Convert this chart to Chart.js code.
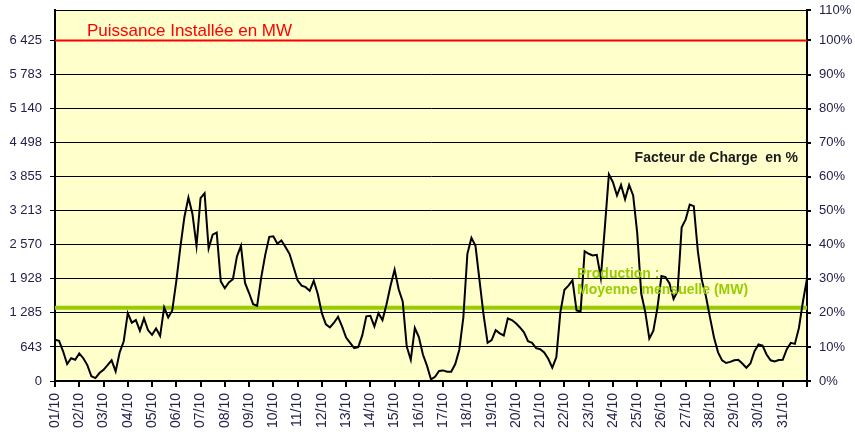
<!DOCTYPE html>
<html>
<head>
<meta charset="utf-8">
<script src="https://cdn.jsdelivr.net/npm/chart.js@4/dist/chart.umd.min.js"></script>
<style>
  html, body { margin: 0; padding: 0; background: #fff; }
  canvas { display: block; }
</style>
</head>
<body>
<canvas id="chart" width="855" height="436"></canvas>
<script>
// jours du mois (axe x)
const dayLabels = ['01/10', '02/10', '03/10', '04/10', '05/10', '06/10', '07/10', '08/10', '09/10', '10/10',
    '11/10', '12/10', '13/10', '14/10', '15/10', '16/10', '17/10', '18/10', '19/10', '20/10',
    '21/10', '22/10', '23/10', '24/10', '25/10', '26/10', '27/10', '28/10', '29/10', '30/10', '31/10'];

// graduations de gauche (MW) et de droite (%)
const leftTickValues = [0, 642.5, 1285, 1927.5, 2570, 3212.5, 3855, 4497.5, 5140, 5782.5, 6425];
const leftTickLabels = ['0', '643', '1 285', '1 928', '2 570', '3 213', '3 855', '4 498', '5 140', '5 783', '6 425'];
const rightTickValues = [0, 642.5, 1285, 1927.5, 2570, 3212.5, 3855, 4497.5, 5140, 5782.5, 6425, 7000];
const rightTickLabels = ['0%', '10%', '20%', '30%', '40%', '50%', '60%', '70%', '80%', '90%', '100%', '110%'];

const installedCapacity = 6425;   // Puissance installée (MW)
const monthlyMean = 1380;         // Production moyenne mensuelle (MW)
const stepsPerDay = 6;            // un point toutes les 4 heures

// production éolienne (MW), 6 valeurs par jour + le dernier point
const production = [
    780, 760, 560, 320, 430, 400,        // 01/10
    520, 430, 300, 90, 55, 150,          // 02/10
    210, 300, 390, 180, 540, 750,        // 03/10
    1280, 1100, 1150, 950, 1180, 960,    // 04/10
    870, 990, 850, 1390, 1200, 1330,     // 05/10
    1880, 2520, 3090, 3460, 3150, 2550,  // 06/10
    3450, 3540, 2500, 2760, 2800, 1880,  // 07/10
    1750, 1860, 1920, 2350, 2550, 1850,  // 08/10
    1660, 1450, 1420, 1950, 2380, 2720,  // 09/10
    2730, 2590, 2650, 2530, 2400, 2150,  // 10/10
    1900, 1800, 1770, 1700, 1890, 1640,  // 11/10
    1280, 1070, 1010, 1100, 1210, 1030,  // 12/10
    820, 720, 620, 640, 860, 1220,       // 13/10
    1230, 1030, 1280, 1150, 1450, 1800,  // 14/10
    2100, 1730, 1500, 650, 400, 1000,    // 15/10
    830, 500, 290, 30, 80, 190,          // 16/10
    200, 175, 175, 320, 590, 1200,       // 17/10
    2400, 2700, 2550, 1900, 1250, 720,   // 18/10
    770, 960, 900, 860, 1180, 1150,      // 19/10
    1090, 1010, 920, 750, 720, 620,      // 20/10
    600, 540, 420, 250, 450, 1300,       // 21/10
    1720, 1800, 1900, 1330, 1310, 2450,  // 22/10
    2400, 2370, 2380, 1950, 2900, 3900,  // 23/10
    3750, 3500, 3700, 3430, 3700, 3500,  // 24/10
    2800, 1650, 1300, 800, 950, 1380,    // 25/10
    1980, 1960, 1840, 1550, 1700, 2900,  // 26/10
    3050, 3330, 3300, 2450, 1900, 1600,  // 27/10
    1200, 820, 540, 390, 340, 360,       // 28/10
    390, 400, 330, 250, 330, 560,        // 29/10
    690, 670, 500, 390, 370, 395,        // 30/10
    400, 600, 720, 700, 1000, 1500,      // 31/10
    1930
];

const FONT = "'Liberation Sans', Arial, sans-serif";
const TICK_COLOR = '#23234a';

// fond jaune + cadre + textes
const decorPlugin = {
    id: 'decor',
    beforeDraw(chart) {
        const { ctx, chartArea: a } = chart;
        ctx.save();
        ctx.fillStyle = '#ffffcc';
        ctx.fillRect(a.left, a.top, a.right - a.left, a.bottom - a.top);
        ctx.restore();
    },
    afterDatasetsDraw(chart) {
        const { ctx, chartArea: a } = chart;
        ctx.save();
        ctx.strokeStyle = '#000';
        ctx.lineWidth = 1;
        ctx.beginPath();
        ctx.moveTo(a.left, a.top + 0.5);
        ctx.lineTo(a.right, a.top + 0.5);
        ctx.stroke();

        ctx.textBaseline = 'alphabetic';
        ctx.fillStyle = '#ff0000';
        ctx.font = '17px ' + FONT;
        ctx.textAlign = 'left';
        ctx.fillText('Puissance Installée en MW', 87, 36);

        ctx.fillStyle = '#1a1a1a';
        ctx.font = 'bold 14px ' + FONT;
        ctx.textAlign = 'right';
        ctx.fillText('Facteur de Charge  en %', 798, 162);

        ctx.fillStyle = '#99cc00';
        ctx.textAlign = 'left';
        ctx.fillText('Production :', 577, 278);
        ctx.fillText('Moyenne mensuelle (MW)', 577, 294);
        ctx.restore();
    }
};

// largeur fixe des axes verticaux, sans marge haute/basse
function fixVertical(width) {
    return scale => {
        scale.width = width;
        scale.paddingTop = 0;
        scale.paddingBottom = 0;
    };
}

const ctx = document.getElementById('chart').getContext('2d');
new Chart(ctx, {
    type: 'line',
    data: {
        datasets: [
            {
                label: 'Production',
                data: production.map((v, i) => ({ x: i / stepsPerDay, y: v })),
                borderColor: '#000',
                borderWidth: 2,
                pointRadius: 0,
                tension: 0,
                yAxisID: 'y'
            },
            {
                label: 'Moyenne mensuelle',
                data: [{ x: 0, y: monthlyMean }, { x: dayLabels.length, y: monthlyMean }],
                borderColor: '#99cc00',
                borderWidth: 4,
                pointRadius: 0,
                yAxisID: 'y'
            },
            {
                label: 'Puissance installée',
                data: [{ x: 0, y: installedCapacity }, { x: dayLabels.length, y: installedCapacity }],
                borderColor: '#ff0000',
                borderWidth: 2,
                pointRadius: 0,
                yAxisID: 'y'
            }
        ]
    },
    options: {
        responsive: false,
        animation: false,
        layout: { padding: { top: 10, left: 0, right: 0, bottom: 0 } },
        plugins: {
            legend: { display: false },
            tooltip: { enabled: false }
        },
        scales: {
            x: {
                type: 'linear',
                min: 0,
                max: dayLabels.length,
                afterBuildTicks: scale => {
                    scale.ticks = dayLabels.map((d, i) => ({ value: i })).concat([{ value: dayLabels.length }]);
                },
                afterFit: scale => { scale.height = 55; },
                ticks: {
                    autoSkip: false,
                    minRotation: 90,
                    maxRotation: 90,
                    padding: 6,
                    color: TICK_COLOR,
                    font: { family: FONT, size: 14 },
                    callback: (v) => dayLabels[v] || ''
                },
                grid: { drawOnChartArea: false, drawTicks: true, tickLength: 6, color: '#000', lineWidth: 2 },
                border: { display: true, color: '#000', width: 2 }
            },
            y: {
                position: 'left',
                min: 0,
                max: 7000,
                afterBuildTicks: scale => {
                    scale.ticks = leftTickValues.map(v => ({ value: v }));
                },
                afterFit: fixVertical(55),
                ticks: {
                    padding: 8,
                    color: TICK_COLOR,
                    font: { family: FONT, size: 13 },
                    callback: (v, i) => leftTickLabels[i]
                },
                grid: { color: '#000', lineWidth: 1, tickLength: 5 },
                border: { display: true, color: '#000', width: 2 }
            },
            y2: {
                position: 'right',
                min: 0,
                max: 7000,
                afterBuildTicks: scale => {
                    scale.ticks = rightTickValues.map(v => ({ value: v }));
                },
                afterFit: fixVertical(48),
                ticks: {
                    padding: 8,
                    color: TICK_COLOR,
                    font: { family: FONT, size: 13 },
                    callback: (v, i) => rightTickLabels[i]
                },
                grid: { drawOnChartArea: false, color: '#000', lineWidth: 2, tickLength: 4 },
                border: { display: true, color: '#000', width: 2 }
            }
        }
    },
    plugins: [decorPlugin]
});
</script>
</body>
</html>
